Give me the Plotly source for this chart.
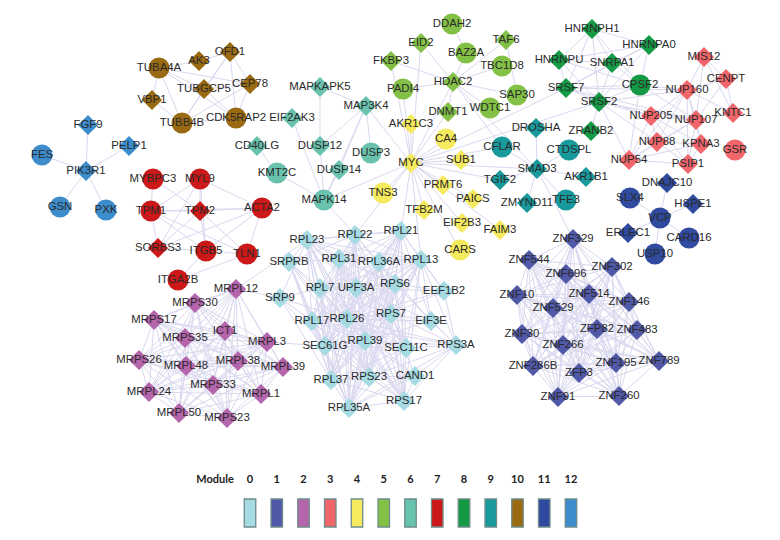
import itertools
import plotly.graph_objects as go

MODULE_IDS = [str(i) for i in range(13)]
MODULE_COLORS = ["#A6DBE3", "#5059A8", "#B565AC", "#F0666A", "#F5E95E", "#82C145", "#69C2AD",
                 "#CC1818", "#149A45", "#189A9C", "#9A6A13", "#2F4A9E", "#3D8CCB"]

# name, x, y, shape per module
M0 = ["RPL23","RPL22","RPL21","SRPRB","RPL31","RPL36A","RPL13","SRP9","RPL7","UPF3A","RPS6","EEF1B2","RPL17","RPL26","RPS7","EIF3E","SEC61G","RPL39","SEC11C","RPS3A","RPL37","RPS23","CAND1","RPS17","RPL35A"]
M0X = [307,355,401,289,339,379,421,280,320,356,395,444,312,347,391,431,325,365,406,456,331,369,415,404,349]
M0Y = [240,235,231,262,259,262,260,298,288,288,284,291,321,319,314,321,346,341,348,345,380,377,376,401,408]
M0S = "d"*25

M1 = ["ZNF329","ZNF544","ZNF302","ZNF696","ZNF10","ZNF514","ZNF146","ZNF529","ZFP82","ZNF483","ZNF30","ZNF266","ZNF195","ZNF789","ZNF286B","ZFP3","ZNF91","ZNF260"]
M1X = [573,529,612,566,517,589,629,553,597,637,522,563,616,659,533,579,558,619]
M1Y = [239,260,267,274,295,294,302,308,329,330,334,345,363,361,366,373,397,396]
M1S = "d"*18

M2 = ["MRPL12","MRPS30","MRPS17","MRPS35","ICT1","MRPL3","MRPS26","MRPL48","MRPL38","MRPL39","MRPL24","MRPS33","MRPL1","MRPL50","MRPS23"]
M2X = [236,195,154,185,225,267,139,186,238,283,149,213,261,179,227]
M2Y = [289,303,320,338,331,342,360,366,361,367,392,385,394,413,418]
M2S = "d"*15

M3 = ["MIS12","CENPT","NUP160","NUP205","NUP107","KNTC1","NUP88","KPNA3","GSR","NUP54","PSIP1"]
M3X = [704,726,687,651,696,733,657,701,735,629,688]
M3Y = [57,79,90,116,120,113,142,144,150,160,164]
M3S = "ddddddddcdd"

M4 = ["AKR1C3","CA4","SUB1","MYC","PRMT6","TNS3","PAICS","TFB2M","EIF2B3","FAIM3","CARS"]
M4X = [411,446,461,411,443,383,473,424,462,500,460]
M4Y = [124,139,160,163,185,193,199,210,223,230,250]
M4S = "dcdddcddddc"

M5 = ["DDAH2","EID2","TAF6","BAZ2A","TBC1D8","FKBP3","HDAC2","PADI4","SAP30","DNMT1","WDTC1"]
M5X = [452,421,506,466,502,391,453,403,517,448,490]
M5Y = [24,43,40,53,66,61,82,89,95,112,108]
M5S = "cddccddccdc"

M6 = ["MAPKAPK5","MAP3K4","EIF2AK3","CD40LG","DUSP12","DUSP3","DUSP14","KMT2C","MAPK14"]
M6X = [320,366,292,257,320,371,339,277,324]
M6Y = [87,106,118,146,146,153,170,173,200]
M6S = "dddddcdcc"

M7 = ["MYBPC3","MYL9","TPM1","TPM2","ACTA2","SORBS3","ITGB5","TLN1","ITGA2B"]
M7X = [153,200,151,200,262,158,206,247,178]
M7Y = [179,179,211,211,208,248,251,254,280]
M7S = "cccdcdccc"

M8 = ["HNRNPH1","HNRNPA0","HNRNPU","SNRPA1","CPSF2","SRSF7","SRSF2","ZRANB2"]
M8X = [592,649,559,612,640,566,599,591]
M8Y = [29,45,60,63,85,88,102,131]
M8S = "ddddcddd"

M9 = ["DROSHA","CFLAR","CTDSPL","SMAD3","TGIF2","AKR1B1","ZMYND11","TFE3"]
M9X = [536,502,569,537,500,586,527,566]
M9Y = [128,147,150,169,180,177,203,200]
M9S = "dccddddc"

M10 = ["TUBA4A","AK3","OFD1","CEP78","TUBGCP5","VBP1","TUBB4B","CDK5RAP2"]
M10X = [159,199,230,250,204,152,182,236]
M10Y = [68,61,52,84,89,100,123,118]
M10S = "cddddd" + "cc"

M11 = ["DNAJC10","SLX4","HSPE1","VCP","ERLEC1","CARD16","USP10"]
M11X = [667,630,693,660,628,689,655]
M11Y = [183,198,204,218,233,238,254]
M11S = "dcdcdcc"

M12 = ["FGF9","PELP1","FES","PIK3R1","GSN","PXK"]
M12X = [88,129,42,86,60,106]
M12Y = [125,146,155,171,207,210]
M12S = "ddcdcc"

MODULES = [(M0,M0X,M0Y,M0S),(M1,M1X,M1Y,M1S),(M2,M2X,M2Y,M2S),(M3,M3X,M3Y,M3S),(M4,M4X,M4Y,M4S),
           (M5,M5X,M5Y,M5S),(M6,M6X,M6Y,M6S),(M7,M7X,M7Y,M7S),(M8,M8X,M8Y,M8S),(M9,M9X,M9Y,M9S),
           (M10,M10X,M10Y,M10S),(M11,M11X,M11Y,M11S),(M12,M12X,M12Y,M12S)]

# densely connected groups (read as near-cliques in the picture)
DENSE_GROUPS = [
    ["RPL23","RPL22","RPL21","RPL31","RPL36A","RPL13","RPL7","UPF3A","RPS6","RPL17","RPL26","RPS7","SEC61G","RPL39","RPL37","RPS23","RPS17","RPL35A","SEC11C"],
    M1,
    M2,
    ["HNRNPH1","HNRNPA0","HNRNPU","SNRPA1","CPSF2","SRSF7","SRSF2"],
    ["NUP160","NUP205","NUP107","NUP88","NUP54","KPNA3","PSIP1"],
]
# hub -> neighbours
STARS = {
    "PIK3R1": ["FGF9","PELP1","FES","GSN","PXK"],
    "VCP": ["DNAJC10","SLX4","HSPE1","ERLEC1","CARD16","USP10"],
    "SMAD3": ["DROSHA","CFLAR","CTDSPL","TGIF2","AKR1B1","ZMYND11","TFE3","ZNF329","MYC","HDAC2"],
    "HDAC2": ["EID2","TAF6","BAZ2A","TBC1D8","FKBP3","PADI4","SAP30","DNMT1","WDTC1","MYC","CFLAR"],
    "MYC": ["AKR1C3","CA4","SUB1","PRMT6","TNS3","PAICS","TFB2M","EIF2B3","CARS","FAIM3","MAP3K4","MAPK14","TGIF2","SRSF2","SRSF7","DNMT1","PADI4","EID2","RPL21","RPL22","RPL13","CFLAR","FKBP3"],
    "MAPK14": ["MAP3K4","EIF2AK3","DUSP12","DUSP14","KMT2C","RPL22"],
    "TUBA4A": ["AK3","CEP78","TUBGCP5","VBP1","TUBB4B","CDK5RAP2"],
    "OFD1": ["AK3","TUBGCP5","CEP78","CDK5RAP2","TUBB4B"],
    "CEP78": ["TUBGCP5","CDK5RAP2","TUBB4B"],
    "TUBGCP5": ["TUBB4B","CDK5RAP2"],
    "TUBB4B": ["CDK5RAP2","VBP1"],
    "TPM2": ["MYBPC3","MYL9","TPM1","ACTA2","SORBS3","ITGB5","TLN1"],
    "TPM1": ["MYBPC3","MYL9","ACTA2","SORBS3","ITGB5","TLN1"],
    "MYL9": ["ACTA2","ITGB5","SORBS3"],
    "ACTA2": ["SORBS3","ITGB5","TLN1"],
    "ITGB5": ["TLN1","SORBS3","ITGA2B"],
    "ITGA2B": ["TLN1"],
    "SRPRB": ["RPL23","RPL22","RPL31","RPL7","RPL17","RPL26","SEC61G","RPL37","RPS23","RPS17","RPL35A"],
    "SRP9": ["RPL23","RPL7","RPL17","RPL26","SEC61G","RPL37","MRPL12"],
    "EEF1B2": ["RPL13","RPS6","RPS7","RPL21","RPL26","RPS3A","UPF3A"],
    "EIF3E": ["RPL13","RPS6","RPS7","RPL21","RPL39","RPL26","RPS3A","RPL36A","UPF3A"],
    "RPS3A": ["RPL13","RPS6","RPS7","RPL26","RPL39","SEC11C","RPS17","CAND1","RPS23","RPL35A","RPL17"],
    "CAND1": ["RPS17","RPL35A","RPL39","RPS7","RPL26","RPS23"],
    "MRPL12": ["RPL23"],
    "MRPL3": ["SEC61G"],
    "MAP3K4": ["MAPKAPK5","DUSP12","DUSP3","DUSP14"],
    "DUSP12": ["MAPKAPK5"],
    "KMT2C": ["CD40LG"],
    "DDAH2": ["BAZ2A"],
    "SAP30": ["TAF6"],
    "SRSF2": ["ZRANB2","NUP160","NUP205","NUP107","NUP88","NUP54"],
    "SRSF7": ["NUP160","NUP107","NUP205"],
    "CPSF2": ["NUP160","NUP54","NUP107"],
    "MIS12": ["NUP160","CENPT","NUP107","KNTC1"],
    "CENPT": ["NUP160","NUP107","KNTC1"],
    "KNTC1": ["NUP160","NUP107"],
}

pos = {}
nodes = []
for idx, (names, xs, ys, shapes) in enumerate(MODULES):
    for n, x, y, s in zip(names, xs, ys, shapes):
        pos[n] = (x, y)
        nodes.append((n, x, y, s, MODULE_COLORS[idx]))

edges = []
for g in DENSE_GROUPS:
    edges += list(itertools.combinations(g, 2))
for hub, nbrs in STARS.items():
    edges += [(hub, n) for n in nbrs]

ex, ey = [], []
for a, b in edges:
    ex += [pos[a][0], pos[b][0], None]
    ey += [pos[a][1], pos[b][1], None]

fig = go.Figure()
fig.add_trace(go.Scatter(x=ex, y=ey, mode="lines", line=dict(color="#DAD8EF", width=1), hoverinfo="skip"))
fig.add_trace(go.Scatter(
    x=[n[1] for n in nodes], y=[n[2] for n in nodes], mode="markers+text",
    text=[n[0] for n in nodes], textposition="middle center",
    textfont=dict(family="Liberation Sans", size=11.4, color="#2A2A2A"),
    marker=dict(
        size=[21 if n[3] == "c" else 15.5 for n in nodes],
        symbol=["circle" if n[3] == "c" else "diamond" for n in nodes],
        color=[n[4] for n in nodes], line=dict(width=0), opacity=1),
))

# legend
LEG_X = [250 + 26.75 * i for i in range(13)]
fig.add_trace(go.Bar(x=LEG_X, y=[28] * 13, base=[499] * 13, width=[11.5] * 13,
                     marker=dict(color=MODULE_COLORS, line=dict(color="#6E8C8C", width=1.3))))
LEG_FONT = dict(family="Lato", size=11, color="#222222", weight="bold")
fig.add_trace(go.Scatter(x=LEG_X, y=[480] * 13, mode="text", text=MODULE_IDS, textfont=LEG_FONT))
fig.add_trace(go.Scatter(x=[215], y=[480], mode="text", text=["Module"], textfont=LEG_FONT))

fig.update_layout(
    width=780, height=540, margin=dict(l=0, r=0, t=0, b=0), showlegend=False,
    plot_bgcolor="white", paper_bgcolor="white",
    xaxis=dict(range=[0, 780], visible=False, fixedrange=True),
    yaxis=dict(range=[540, 0], visible=False, fixedrange=True),
)
fig.write_html("out.html", config=dict(displayModeBar=False),
               post_script="document.body.style.margin='0';document.body.style.overflow='hidden';")
